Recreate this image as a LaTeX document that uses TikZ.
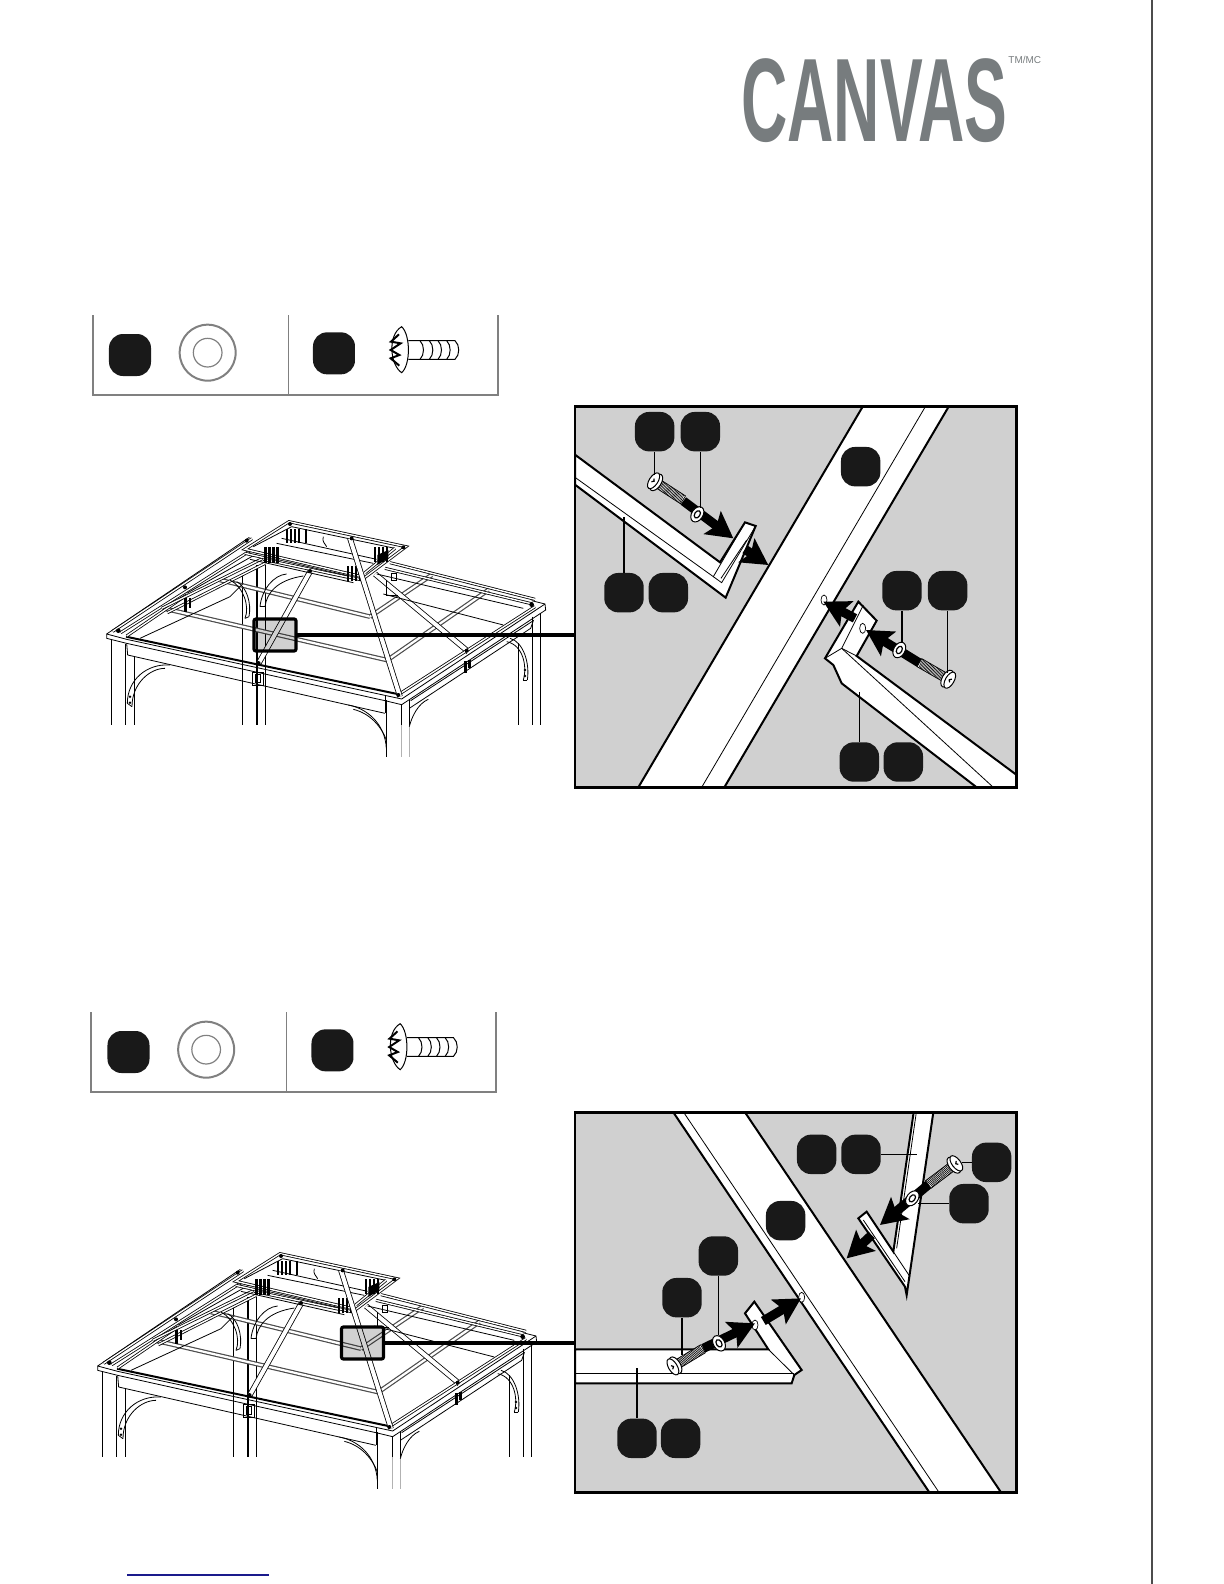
\documentclass[tikz,border=0pt]{standalone}
\usepackage{graphicx}
\usepackage{fontspec}
\setmainfont{Liberation Sans}
\usetikzlibrary{arrows.meta,shapes.geometric}
\definecolor{logogray}{HTML}{777C7E}
\definecolor{panelgray}{HTML}{D0D0D0}
\definecolor{rulegray}{HTML}{808080}
\definecolor{linkblue}{HTML}{1A1A8C}
\def\zx{.16667bp}
\tikzset{
  bolt/.pic={
    \draw[fill=white, line width=.35bp] (14,-14) rectangle (100,14);
    \foreach \t in {18,22,...,96} \draw[line width=.3bp] (\t,-14) -- (\t+3,14);
    \draw[fill=white, line width=.5bp] (4,0) ellipse [x radius=15, y radius=28];
    \draw[fill=white, line width=.5bp] (-5,0) ellipse [x radius=13, y radius=27];
    \draw[line width=.6bp] (-8,-6) -- (-3,0) -- (-9,6);
  },
  washer/.pic={
    \draw[fill=white, line width=.5bp] (0,0) ellipse [x radius=17, y radius=25];
    \draw[fill=white, line width=.6bp] (0,0) ellipse [x radius=8, y radius=12];
  },
  hardware/.pic={
    \draw[rulegray, line width=1bp] (38,45) -- (38,285) -- (1253,285) -- (1253,45);
    \draw[rulegray, line width=.5bp] (625,45) -- (625,285);
    \node[hwbadge] (badge1) at (150,165) {};
    \node[hwbadge] (badge2) at (762,160) {};
    \draw[rulegray, line width=1bp] (383,158) circle [radius=84];
    \draw[rulegray, line width=.6bp] (383,158) circle [radius=43];
    % screw
    \draw[screwline, fill=white] (985,122) -- (1125,122) .. controls (1140,135) and (1140,165) .. (1125,178) -- (985,178);
    \foreach \t in {1020,1048,1074,1100}
      \draw[screwline] (\t,122) .. controls (\t+14,135) and (\t+14,165) .. (\t,178);
    \draw[screwline, fill=white] (965,80) .. controls (992,105) and (992,195) .. (965,218) .. controls (930,195) and (922,105) .. cycle;
    \draw[screwline, line width=1bp, line join=miter] (957,103) -- (933,125) -- (962,130) -- (932,150) -- (958,165) -- (932,175) -- (958,197);
  },
  gazebo/.pic={
    \foreach \px/\pa/\pb in {65/420/675,107/432/675,133/470/675,458/220/675,525/195/675,889/600/772,935/612/675,958/600/675,1285/430/675,1328/350/675,1352/338/675}
      \draw[frameline] (\px,\pa) -- (\px,\pb);
    \draw[frameline, line width=.8bp] (501,195) -- (501,675);
    \draw[frameline, black!30] (935,675) -- (935,770);
    \draw[frameline, black!30] (958,675) -- (958,770);
    % roof bars and hip rafters
    \draw[barline] (220,325) -- (890,480);
    \draw[barline] (390,240) -- (840,350);
    \draw[barline] (840,350) -- (1025,225);
    \draw[barline] (900,475) -- (1195,270);
    \draw[ribline] (855,222) -- (1135,455);
    \draw[ribline] (660,215) -- (505,492);
    % rim, front
    \draw[frameline] (50,402) -- (50,415) -- (110,430) -- (885,602) -- (935,614) -- (1367,330) -- (1365,312) -- (1325,302);
    \draw[frameline] (50,402) -- (110,418) -- (935,597) -- (1365,312);
    \draw[frameline, line width=1bp] (108,410) -- (922,582);
    \draw[frameline] (110,430) -- (113,465) -- (885,640);
    \draw[frameline] (885,585) -- (885,640);
    \draw[pairline] (928,582) -- (1335,320);
    \draw[frameline] (962,602) -- (1330,362) -- (1322,385) -- (958,625);
    \draw[frameline] (150,415) -- (420,290) -- (460,250);
    % rim, left and rear
    \draw[frameline] (50,402) -- (478,112);
    \foreach \ax/\ay/\bx/\by in {68/394/486/116,92/398/522/126,110/408/290/285,215/325/525/172,232/338/525/190}
      \draw[pairline] (\ax,\ay) -- (\bx,\by);
    \draw[frameline] (290,280) -- (520,150);
    \foreach \ax/\ay/\bx/\by in {900/188/1335/298,885/205/1328/312}
      \draw[pairline] (\ax,\ay) -- (\bx,\by);
    \draw[frameline] (860,222) -- (1300,325);
    \draw[frameline] (880,282) -- (1240,375);
    % cupola
    \draw[pairline, fill=white] (597,65) -- (948,140) -- (825,232) -- (465,148) -- cycle;
    \draw[frameline] (605,80) -- (915,145);
    \draw[pairline] (465,160) -- (825,242);
    \draw[frameline] (480,178) -- (790,248);
    \draw[pairline] (520,178) -- (775,232);
    \draw[frameline] (560,130) -- (850,190);
    \draw[frameline] (575,115) -- (860,178);
    \draw[frameline] (490,140) -- (605,80);
    \draw[pairline] (825,218) -- (915,145);
    \foreach \t in {523,535,547,559} \fill (\t,140) rectangle +(7,48);
    \foreach \t in {771,783,795,807} \fill (\t,198) rectangle +(7,46);
    \foreach \t in {588,600,612,624,644} \fill (\t,88) rectangle +(7,42);
    \foreach \t in {853,865,877,889} \fill (\t,142) rectangle +(6,45);
    \fill (862,165) -- (895,150) -- (895,175) -- (862,195) -- cycle;
    \draw[frameline] (700,110) .. controls (695,125) and (705,130) .. (710,140);
    \draw[ribline] (780,115) -- (930,590);
    % small blocks
    \fill (283,295) rectangle (290,335);
    \fill (296,295) rectangle (303,325);
    \fill (1122,482) rectangle (1130,520);
    \fill (1134,480) rectangle (1142,505);
    \draw[frameline] (488,518) rectangle (520,555);
    \draw[frameline] (495,522) rectangle (512,548);
    \draw[frameline] (890,240) -- (890,285) -- (925,285);
    \draw[frameline] (905,220) rectangle (918,240);
    % corner brackets
    \draw[frameline] (112,610) .. controls (112,540) and (170,490) .. (240,495);
    \draw[frameline] (126,620) .. controls (126,550) and (180,505) .. (225,505);
    \draw[frameline] (112,610) -- (126,620);
    \draw[frameline] (775,615) .. controls (830,625) and (885,670) .. (889,745);
    \draw[frameline] (790,628) .. controls (840,640) and (875,680) .. (889,720);
    \draw[frameline] (958,680) .. controls (965,650) and (985,610) .. (1015,598);
    \draw[frameline] (1300,540) .. controls (1312,500) and (1300,435) .. (1250,425);
    \draw[frameline] (1312,540) .. controls (1320,490) and (1300,425) .. (1260,415);
    \draw[frameline] (1300,540) -- (1312,540);
    \draw[frameline] (510,320) .. controls (515,270) and (550,225) .. (590,222);
    \draw[frameline] (525,320) .. controls (530,280) and (560,240) .. (640,228);
    \draw[frameline] (510,320) -- (525,320);
    \draw[frameline] (465,355) .. controls (480,320) and (460,260) .. (420,240);
    \draw[frameline] (477,350) .. controls (485,310) and (470,260) .. (440,245);
    \draw[frameline] (465,355) -- (477,350);
    \fill (120,590) circle [radius=4];
    \fill (120,608) circle [radius=4];
    \fill (1305,510) circle [radius=4];
    \fill (1305,528) circle [radius=4];
    \fill (85,392) circle [radius=7];
    \fill (1325,314) circle [radius=7];
    \fill (505,490) circle [radius=7];
    \fill (925,585) circle [radius=6];
    \fill (1130,452) circle [radius=6];
    \fill (285,262) circle [radius=6];
    \fill (470,122) circle [radius=6];
    \fill (600,72) circle [radius=6];
    \fill (940,142) circle [radius=6];
    \fill (660,213) circle [radius=6];
    \fill (785,115) circle [radius=6];
  }
}
\begin{document}
\begin{tikzpicture}[x=.5bp, y=-.5bp]
\tikzstyle{badge}=[rectangle, fill=black!90, rounded corners=7bp, minimum size=19.7bp, inner sep=0pt]
\tikzstyle{hwbadge}=[badge, minimum size=21bp]
\tikzstyle{screwline}=[black, line width=.5bp]
\tikzstyle{frameline}=[black, line width=.4bp]
\tikzstyle{pairline}=[draw=black, line width=.4bp, double=white, double distance=.7bp]
\tikzstyle{ribline}=[draw=black, line width=.4bp, double=white, double distance=2bp]
\tikzstyle{barline}=[draw=black!70, line width=.6bp, double=white, double distance=1.1bp]
\tikzstyle{panelframe}=[rectangle, fill=panelgray, draw=black, line width=1.3bp, minimum width=220.8bp, inner sep=0pt, outer sep=0pt]
\tikzstyle{zoombox}=[rectangle, draw=black, line width=1.6bp, fill=black, fill opacity=.18, draw opacity=1, rounded corners=1bp, minimum width=21bp, minimum height=16bp, inner sep=0pt, outer sep=0pt]
\tikzstyle{beam}=[draw=black, fill=white, line width=1bp, line join=miter]
\tikzstyle{rail}=[black, line width=.4bp]
\tikzstyle{leader}=[black, line width=.8bp]
\tikzstyle{connect}=[-{Stealth[length=13bp, width=14bp, inset=2.5bp]}, black, line width=4.6bp]
\tikzstyle{hole}=[ellipse, draw=black, fill=white, line width=.35bp, minimum width=3bp, minimum height=5bp, inner sep=0pt]
\tikzstyle{outline}=[draw=black, line width=1.3bp]
\useasboundingbox (0,0) rectangle (1224,1584);
\node[text=logogray, anchor=base west, inner sep=0pt, font=\bfseries\fontsize{59.35bp}{60bp}\selectfont] (logotext) at (741,141) {\scalebox{.54}[1]{CANVAS}};
\node[text=logogray, anchor=base west, inner sep=0pt, font=\fontsize{5bp}{6bp}\selectfont] (tmtext) at (1008,63) {TM/MC};
\draw[black!70, line width=.7bp] (1152,0) -- (1152,1584);
\draw[linkblue, line width=.6bp] (127,1575) -- (269,1575);

\begin{scope}[shift={(80,300)}, x=\zx, y=-\zx]
  \pic (hwA) at (0,0) {hardware};
\end{scope}
\begin{scope}[shift={(78.5,997)}, x=\zx, y=-\zx]
  \pic (hwB) at (0,0) {hardware};
\end{scope}
\begin{scope}[shift={(90,500)}, x=\zx, y=-\zx]
  \pic at (0,0) {gazebo};
\end{scope}
\begin{scope}[shift={(81,1232)}, x=\zx, y=-\zx]
  \pic at (0,0) {gazebo};
\end{scope}
\node[zoombox] (boxA) at (275,635) {};
\node[zoombox] (boxB) at (362.5,1343) {};

% upper panel
\begin{scope}[shift={(565,400)}, x=\zx, y=-\zx]
  \node[panelframe, minimum height=190.3bp] (frameA) at (692.5,591) {};
  \draw[beam] (893,20) -- (220,1162) -- (478,1162) -- (1151,20) -- cycle;
  \draw[rail] (1081,20) -- (410,1162);
  \draw[beam] (30,164) -- (465,487) -- (540,367) -- (572,378) -- (482,593) -- (30,254) -- cycle;
  \draw[rail] (30,232) -- (445,530) -- (540,367);
  \draw[rail] (445,530) -- (470,548) -- (572,378);
  \draw[rail] (468,535) -- (545,420);
  \draw[beam] (780,775) -- (880,605) -- (935,662) -- (875,768) -- (1355,1125) -- (1355,1162) -- (1235,1162) -- (830,850) -- (805,795) -- cycle;
  \draw[rail] (830,745) -- (1285,1162);
  \draw[rail] (780,775) -- (830,745) -- (895,615);
  \draw[rail] (830,745) -- (875,768);
  \node[hole] (holeA) at (777,600) {};
  \node[hole] (holeB) at (893,685) {};
  \coordinate (tipA) at (505,415);
  \coordinate (tipB) at (610,495);
  \coordinate (tipC) at (903,690);
  \coordinate (tipD) at (775,605);
  \draw[connect] (355,303) -- (tipA);
  \draw[connect] (540,448) -- (tipB);
  \draw[connect] (1065,790) -- (tipC);
  \draw[connect] (870,655) -- (tipD);
  \pic[rotate=-33] at (270,245) {bolt};
  \pic[rotate=-33] at (397,343) {washer};
  \pic[rotate=150] at (1150,838) {bolt};
  \pic[rotate=150] at (1003,750) {washer};
  \node[badge] (a1) at (269,95) {};
  \node[badge] (a2) at (406,95) {};
  \node[badge] (a3) at (887,200) {};
  \node[badge] (a4) at (177,578) {};
  \node[badge] (a5) at (310,578) {};
  \node[badge] (a6) at (1011,572) {};
  \node[badge] (a7) at (1148,572) {};
  \node[badge] (a8) at (883,1086) {};
  \node[badge] (a9) at (1015,1086) {};
  \coordinate (a1t) at (269,225);
  \coordinate (a2t) at (406,325);
  \coordinate (a4t) at (177,350);
  \coordinate (a6t) at (1011,730);
  \coordinate (a7t) at (1148,820);
  \coordinate (a8t) at (883,875);
  \draw[leader] (a1) -- (a1t);
  \draw[leader] (a2) -- (a2t);
  \draw[leader] (a4) -- (a4t);
  \draw[leader] (a6) -- (a6t);
  \draw[leader] (a7) -- (a7t);
  \draw[leader] (a8) -- (a8t);
  \draw[outline] (frameA.north west) rectangle (frameA.south east);
\end{scope}
\draw[black, line width=1.7bp] (boxA.east) -- (frameA.west |- boxA.east);

% lower panel
\begin{scope}[shift={(565,1105)}, x=\zx, y=-\zx]
  \node[panelframe, minimum height=190bp] (frameB) at (692.5,592) {};
  \draw[beam] (325,22) -- (1093,1162) -- (1308,1162) -- (540,22) -- cycle;
  \draw[rail] (356,22) -- (1122,1162);
  \draw[beam] (1046,22) -- (985,440) -- (905,320) -- (880,340) -- (1020,545) -- (1025,570) -- (1105,22) -- cycle;
  \draw[rail] (1054,22) -- (995,430);
  \draw[rail] (905,320) -- (1035,515);
  \draw[rail] (895,345) -- (1020,530);
  \draw[beam] (30,733) -- (610,733) -- (540,625) -- (568,590) -- (710,795) -- (688,810) -- (680,835) -- (30,835) -- cycle;
  \draw[rail] (30,805) -- (688,805);
  \draw[rail] (610,733) -- (688,810);
  \node[hole] (holeC) at (710,577) {};
  \node[hole] (holeD) at (570,660) {};
  \coordinate (tipE) at (945,360);
  \coordinate (tipF) at (845,460);
  \coordinate (tipG) at (570,655);
  \coordinate (tipH) at (708,580);
  \draw[connect] (1095,235) -- (tipE);
  \draw[connect] (920,390) -- (tipF);
  \draw[connect] (415,730) -- (tipG);
  \draw[connect] (595,648) -- (tipH);
  \pic[rotate=217] at (1170,178) {bolt};
  \pic[rotate=-37] at (1042,280) {washer};
  \pic[rotate=31] at (328,783) {bolt};
  \pic[rotate=31] at (462,715) {washer};
  \node[badge] (b1) at (662,347) {};
  \node[badge] (b2) at (755,148) {};
  \node[badge] (b3) at (888,148) {};
  \node[badge] (b4) at (1280,172) {};
  \node[badge] (b5) at (1212,296) {};
  \node[badge] (b6) at (351,578) {};
  \node[badge] (b7) at (460,453) {};
  \node[badge] (b8) at (216,1000) {};
  \node[badge] (b9) at (347,1000) {};
  \coordinate (b3t) at (1055,148);
  \coordinate (b4t) at (1190,172);
  \coordinate (b5t) at (1060,296);
  \coordinate (b6t) at (351,750);
  \coordinate (b7t) at (460,690);
  \coordinate (b8t) at (216,790);
  \draw[leader] (b3) -- (b3t);
  \draw[leader] (b4) -- (b4t);
  \draw[leader] (b5) -- (b5t);
  \draw[leader] (b6) -- (b6t);
  \draw[leader] (b7) -- (b7t);
  \draw[leader] (b8) -- (b8t);
  \draw[outline] (frameB.north west) rectangle (frameB.south east);
\end{scope}
\draw[black, line width=1.7bp] (boxB.east) -- (frameB.west |- boxB.east);
\end{tikzpicture}
\end{document}
